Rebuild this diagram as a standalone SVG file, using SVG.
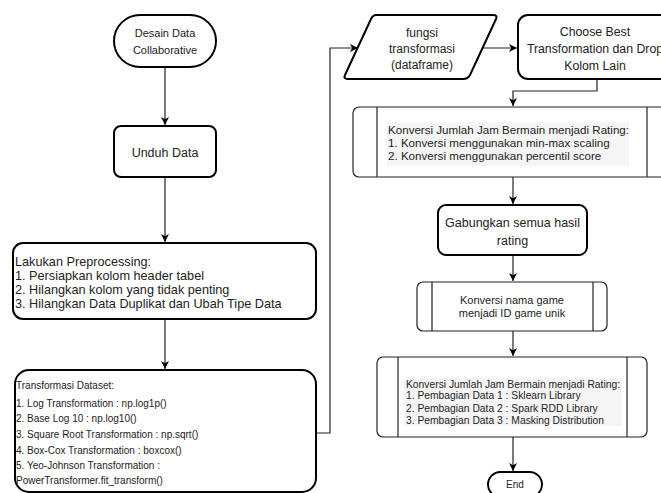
<svg xmlns="http://www.w3.org/2000/svg" width="661" height="493" viewBox="0 0 661 493">
<style>
.n{fill:#fff;stroke:#000;stroke-width:2}
.s{fill:#fff;stroke:#222;stroke-width:1.2}
.c{fill:none;stroke:#222;stroke-width:1.2}
text{font-family:"Liberation Sans",Arial,sans-serif;fill:#222}
.m{text-anchor:middle}
.hl{fill:#f5f5f5;stroke:none}
</style>
<defs>
<marker id="a" markerWidth="9" markerHeight="8" refX="8" refY="4" orient="auto" markerUnits="userSpaceOnUse">
<path d="M0,0 L8,4 L0,8 L2.2,4 z" fill="#000"/>
</marker>
</defs>
<g id="connectors">
<path class="c" d="M165,67 V125" marker-end="url(#a)"/>
<path class="c" d="M165,177 V242" marker-end="url(#a)"/>
<path class="c" d="M165,319 V369" marker-end="url(#a)"/>
<path class="c" d="M317,433 H330 V48 H358" marker-end="url(#a)"/>
<path class="c" d="M482,48 H517" marker-end="url(#a)"/>
<path class="c" d="M597,79 V91 H513 V106" marker-end="url(#a)"/>
<path class="c" d="M513,177 V204" marker-end="url(#a)"/>
<path class="c" d="M513,255 V281" marker-end="url(#a)"/>
<path class="c" d="M513,331 V356" marker-end="url(#a)"/>
<path class="c" d="M513,437 V471" marker-end="url(#a)"/>
</g>
<g id="start">
<rect class="n" x="114" y="15" width="102" height="52" rx="26"/>
<text class="m" x="165" y="37" font-size="11">Desain Data</text>
<text class="m" x="165" y="54" font-size="11">Collaborative</text>
</g>
<g id="unduh">
<rect class="n" x="114" y="126" width="102" height="51" rx="7"/>
<text class="m" x="165" y="156.5" font-size="12.5">Unduh Data</text>
</g>
<g id="preprocessing">
<rect class="n" x="13" y="243" width="303" height="76" rx="10"/>
<text x="15" y="266" font-size="12.7">Lakukan Preprocessing:</text>
<text x="15" y="280" font-size="12.7">1. Persiapkan kolom header tabel</text>
<text x="15" y="294" font-size="12.7">2. Hilangkan kolom yang tidak penting</text>
<text x="15" y="308" font-size="12.7">3. Hilangkan Data Duplikat dan Ubah Tipe Data</text>
</g>
<g id="transformasi">
<rect class="n" x="15" y="370" width="301" height="122" rx="14"/>
<text x="16" y="389" font-size="10">Transformasi Dataset:</text>
<text x="16" y="407" font-size="10">1. Log Transformation : np.log1p()</text>
<text x="16" y="422" font-size="10">2. Base Log 10 : np.log10()</text>
<text x="16" y="438" font-size="10">3. Square Root Transformation : np.sqrt()</text>
<text x="16" y="454" font-size="10">4. Box-Cox Transformation : boxcox()</text>
<text x="16" y="469" font-size="10">5. Yeo-Johnson Transformation :</text>
<text x="16" y="484" font-size="10">PowerTransformer.fit_transform()</text>
</g>
<g id="fungsi">
<path class="n" d="M376,15 H493 Q498,15 496,19 L470,75 Q468,79 463,79 H348 Q343,79 345,75 L371,19 Q373,15 376,15 Z"/>
<text class="m" x="422" y="37" font-size="12">fungsi</text>
<text class="m" x="422" y="53" font-size="12">transformasi</text>
<text class="m" x="422" y="69" font-size="12">(dataframe)</text>
</g>
<g id="choose">
<rect class="n" x="518" y="15" width="157" height="64" rx="10"/>
<text class="m" x="595" y="36" font-size="12.3">Choose Best</text>
<text class="m" x="595" y="53" font-size="12.3">Transformation dan Drop</text>
<text class="m" x="595" y="70" font-size="12.3">Kolom Lain</text>
</g>
<g id="konversi-rating">
<rect class="s" x="353" y="107" width="318" height="70" rx="6"/>
<line class="c" x1="377" y1="107" x2="377" y2="177"/>
<line class="c" x1="647" y1="107" x2="647" y2="177"/>
<rect class="hl" x="387" y="122" width="242" height="44"/>
<text x="388" y="134" font-size="11.6">Konversi Jumlah Jam Bermain menjadi Rating:</text>
<text x="388" y="147" font-size="11.6">1. Konversi menggunakan min-max scaling</text>
<text x="388" y="160" font-size="11.6">2. Konversi menggunakan percentil score</text>
</g>
<g id="gabungkan">
<rect class="n" x="438" y="205" width="149" height="50" rx="8"/>
<text class="m" x="512.5" y="227" font-size="12.5">Gabungkan semua hasil</text>
<text class="m" x="512.5" y="245" font-size="12.5">rating</text>
</g>
<g id="konversi-game">
<rect class="s" x="417" y="282" width="190" height="49" rx="6"/>
<line class="c" x1="432" y1="282" x2="432" y2="331"/>
<line class="c" x1="593" y1="282" x2="593" y2="331"/>
<text class="m" x="512" y="304" font-size="11">Konversi nama game</text>
<text class="m" x="512" y="317" font-size="11">menjadi ID game unik</text>
</g>
<g id="pembagian">
<rect class="s" x="377" y="357" width="270" height="80" rx="6"/>
<line class="c" x1="398" y1="357" x2="398" y2="437"/>
<line class="c" x1="627" y1="357" x2="627" y2="437"/>
<rect class="hl" x="404" y="378" width="218" height="48"/>
<text x="406" y="387.5" font-size="10.3" fill="#333">Konversi Jumlah Jam Bermain menjadi Rating:</text>
<text x="406" y="399" font-size="10.3" fill="#333">1. Pembagian Data 1 : Sklearn Library</text>
<text x="406" y="411.5" font-size="10.3" fill="#333">2. Pembagian Data 2 : Spark RDD Library</text>
<text x="406" y="423.5" font-size="10.3" fill="#333">3. Pembagian Data 3 : Masking Distribution</text>
</g>
<g id="end">
<rect class="n" x="488" y="472" width="54" height="25" rx="12.5"/>
<text class="m" x="515" y="487.5" font-size="10">End</text>
</g>
</svg>
